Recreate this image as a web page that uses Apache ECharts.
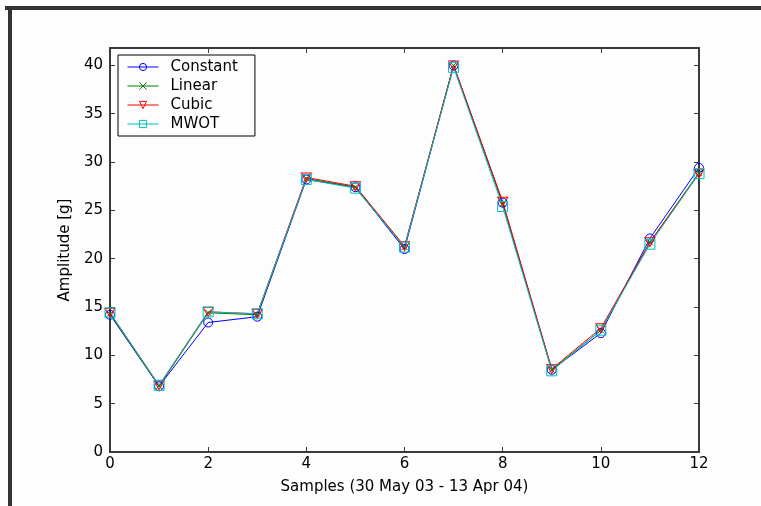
<!DOCTYPE html>
<html><head><meta charset="utf-8">
<script src="https://cdn.jsdelivr.net/npm/echarts@6/dist/echarts.min.js"></script>
<style>html,body{margin:0;padding:0;background:#fdfdfd;}#c{width:761px;height:506px;}</style>
</head><body><div id="c"></div>
<script>
const samples = [0,1,2,3,4,5,6,7,8,9,10,11,12];
const constantVals = [14.2, 6.8, 13.4, 14.0, 28.2, 27.4, 21.0, 40.0, 25.8, 8.5, 12.3, 22.1, 29.4];
const linearVals   = [14.3, 6.8, 14.4, 14.2, 28.3, 27.4, 21.2, 40.0, 25.7, 8.5, 12.6, 21.7, 28.9];
const cubicVals    = [14.4, 6.9, 14.5, 14.3, 28.4, 27.5, 21.3, 40.0, 25.9, 8.6, 12.8, 21.7, 28.8];
const mwotVals     = [14.4, 6.9, 14.5, 14.3, 28.2, 27.3, 21.2, 39.8, 25.4, 8.4, 12.6, 21.5, 28.8];
const seriesNames = ['Constant','Linear','Cubic','MWOT'];
const xTitle = 'Samples (30 May 03 - 13 Apr 04)';
const yTitle = 'Amplitude [g]';

const FONT = 'DejaVu Sans';
const axisCol = '#3a3a3a';
function pairs(v){ return samples.map((x,i)=>[x, v[i]]); }
function mk(name, vals, color, symbol, size){
  return {
    name, type:'line', data: pairs(vals), symbol, symbolSize: size,
    lineStyle:{color, width:1}, itemStyle:{color:'rgba(0,0,0,0)', borderColor:color, borderWidth:1},
    emphasis:{disabled:true}, animation:false
  };
}
const tick = {show:true, inside:true, length:5, lineStyle:{color:axisCol, width:1}};
const line = {show:true, onZero:false, lineStyle:{color:axisCol, width:2}};
const chart = echarts.init(document.getElementById('c'));
chart.setOption({
  backgroundColor:'#fdfdfd',
  animation:false,
  grid:{left:110, right:62, top:48, bottom:54},
  graphic:[
    {type:'rect', shape:{x:5,y:6,width:756,height:4}, style:{fill:'#333'}},
    {type:'rect', shape:{x:8,y:6,width:4,height:500}, style:{fill:'#333'}}
  ],
  legend:{
    orient:'vertical', left:118, top:55,
    data: seriesNames,
    itemWidth:31, itemHeight:9, itemGap:3,
    padding:[4,17,4,9],
    borderColor:'#000', borderWidth:1, backgroundColor:'#fdfdfd',
    lineStyle:{width:1},
    itemStyle:{borderWidth:1, color:'rgba(0,0,0,0)'},
    textStyle:{fontFamily:FONT, fontSize:15, color:'#000', lineHeight:16, padding:[0,0,0,7]}
  },
  xAxis:[
    {type:'value', min:0, max:12, interval:2, position:'bottom',
     name:xTitle, nameLocation:'middle', nameGap:28,
     nameTextStyle:{fontFamily:FONT, fontSize:15, color:'#000'},
     axisLine:line, axisTick:tick,
     axisLabel:{fontFamily:FONT, fontSize:15, color:'#000', margin:5},
     splitLine:{show:false}},
    {type:'value', min:0, max:12, interval:2, position:'top',
     axisLine:line, axisTick:tick,
     axisLabel:{show:false}, splitLine:{show:false}}
  ],
  yAxis:[
    {type:'value', min:0, max:41.8, interval:5, position:'left',
     name:yTitle, nameLocation:'middle', nameGap:27, nameRotate:90,
     nameTextStyle:{fontFamily:FONT, fontSize:15, color:'#000'},
     axisLine:line, axisTick:tick,
     axisLabel:{fontFamily:FONT, fontSize:15, color:'#000', margin:7, showMaxLabel:false},
     splitLine:{show:false}},
    {type:'value', min:0, max:41.8, interval:5, position:'right',
     axisLine:line, axisTick:tick,
     axisLabel:{show:false}, splitLine:{show:false}}
  ],
  series:[
    mk('Constant', constantVals, '#0000ff', 'circle', 9),
    mk('Linear', linearVals, '#008000', 'path://M0,0L10,10M10,0L0,10', 6),
    mk('Cubic', cubicVals, '#ff0000', 'path://M0,0L10,0L5,9Z', [10,9]),
    mk('MWOT', mwotVals, '#00bfbf', 'rect', 10)
  ]
});
</script></body></html>
